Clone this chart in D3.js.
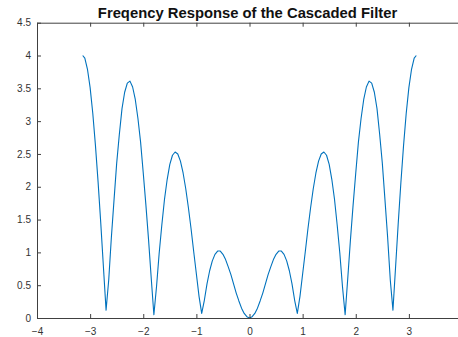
<!DOCTYPE html>
<html>
<head>
<meta charset="utf-8">
<script src="https://cdn.jsdelivr.net/npm/d3@7"></script>
<style>
  body { margin: 0; background: #fff; }
  svg { display: block; }
  text { font-family: "Liberation Sans", Arial, sans-serif; }
</style>
</head>
<body>
<svg id="chart" width="458" height="337"></svg>
<script>
// values (frequency in rad, magnitude)
const freqs = [
  -3.14, -3.1, -3.05, -3.0, -2.95, -2.9, -2.85, -2.8, -2.75, -2.7, -2.65, -2.6, -2.55, -2.5,
  -2.45, -2.4, -2.35, -2.3, -2.25, -2.2, -2.15, -2.1, -2.05, -2.0, -1.95, -1.9, -1.85, -1.8,
  -1.75, -1.7, -1.65, -1.6, -1.55, -1.5, -1.45, -1.4, -1.35, -1.3, -1.25, -1.2, -1.15, -1.1,
  -1.05, -1.0, -0.95, -0.9, -0.85, -0.8, -0.75, -0.7, -0.65, -0.6, -0.55, -0.5, -0.45, -0.4,
  -0.35, -0.3, -0.25, -0.2, -0.15, -0.1, -0.05, 0,
  0.05, 0.1, 0.15, 0.2, 0.25, 0.3, 0.35, 0.4, 0.45, 0.5, 0.55, 0.6, 0.65, 0.7,
  0.75, 0.8, 0.85, 0.9, 0.95, 1.0, 1.05, 1.1, 1.15, 1.2, 1.25, 1.3, 1.35, 1.4,
  1.45, 1.5, 1.55, 1.6, 1.65, 1.7, 1.75, 1.8, 1.85, 1.9, 1.95, 2.0, 2.05, 2.1,
  2.15, 2.2, 2.25, 2.3, 2.35, 2.4, 2.45, 2.5, 2.55, 2.6, 2.65, 2.7, 2.75, 2.8,
  2.85, 2.9, 2.95, 3.0, 3.05, 3.1, 3.14
];
const magnitude = [
  4.0, 3.96, 3.79, 3.51, 3.12, 2.63, 2.07, 1.45, 0.78, 0.12, 0.58, 1.23, 1.8, 2.36,
  2.8, 3.19, 3.44, 3.58, 3.61, 3.52, 3.33, 3.04, 2.68, 2.21, 1.72, 1.19, 0.61, 0.05,
  0.48, 0.99, 1.42, 1.81, 2.11, 2.34, 2.48, 2.53, 2.5, 2.39, 2.21, 1.97, 1.68, 1.36,
  1.01, 0.67, 0.33, 0.07, 0.27, 0.52, 0.72, 0.87, 0.97, 1.02, 1.02, 0.97, 0.89, 0.78,
  0.66, 0.52, 0.38, 0.26, 0.15, 0.07, 0.02, 0,
  0.02, 0.07, 0.15, 0.26, 0.38, 0.52, 0.66, 0.78, 0.89, 0.97, 1.02, 1.02, 0.97, 0.87,
  0.72, 0.52, 0.27, 0.07, 0.33, 0.67, 1.01, 1.36, 1.68, 1.97, 2.21, 2.39, 2.5, 2.53,
  2.48, 2.34, 2.11, 1.81, 1.42, 0.99, 0.48, 0.05, 0.61, 1.19, 1.72, 2.21, 2.68, 3.04,
  3.33, 3.52, 3.61, 3.58, 3.44, 3.19, 2.8, 2.36, 1.8, 1.23, 0.58, 0.12, 0.78, 1.45,
  2.07, 2.63, 3.12, 3.51, 3.79, 3.96, 4.0
];
const xTicks = [-4, -3, -2, -1, 0, 1, 2, 3, 4];
const yTicks = [0, 0.5, 1, 1.5, 2, 2.5, 3, 3.5, 4, 4.5];
const title = "Freqency Response of the Cascaded Filter";

const svg = d3.select("#chart");
const m = { left: 37, right: 462, top: 22.7, bottom: 318 };

const x = d3.scaleLinear().domain([-4, 4]).range([m.left, m.right]);
const y = d3.scaleLinear().domain([0, 4.5]).range([m.bottom, m.top]);

const axisColor = "#404040";

// the curve
const pts = freqs.map((f, i) => [f, magnitude[i]]);
svg.append("path")
  .datum(pts)
  .attr("fill", "none")
  .attr("stroke", "#0072BD")
  .attr("stroke-width", 1.1)
  .attr("stroke-linejoin", "round")
  .attr("d", d3.line().x(d => x(d[0])).y(d => y(d[1])));

// bottom axis
svg.append("g")
  .attr("transform", `translate(0,${m.bottom})`)
  .call(d3.axisBottom(x).tickValues(xTicks).tickFormat(d3.format("d"))
    .tickSizeInner(-4).tickSizeOuter(0).tickPadding(10));

// top box line
svg.append("g")
  .attr("transform", `translate(0,${m.top})`)
  .call(d3.axisTop(x).tickValues(xTicks).tickFormat("")
    .tickSizeInner(-4).tickSizeOuter(0));

// left axis
svg.append("g")
  .attr("transform", `translate(${m.left},0)`)
  .call(d3.axisLeft(y).tickValues(yTicks).tickFormat(d => String(d))
    .tickSizeInner(-4).tickSizeOuter(0).tickPadding(6));

svg.selectAll(".domain").attr("stroke", axisColor).attr("stroke-width", 1);
svg.selectAll(".tick line").attr("stroke", axisColor);
svg.selectAll(".tick text")
  .attr("fill", "#333")
  .style("font-size", "10px")
  .style("font-family", "'Liberation Sans', Arial, sans-serif");

// title
svg.append("text")
  .attr("x", (m.left + m.right) / 2 - 2)
  .attr("y", 17.5)
  .attr("text-anchor", "middle")
  .style("font-weight", "bold")
  .style("font-size", "14.8px")
  .attr("fill", "#111")
  .text(title);
</script>
</body>
</html>
